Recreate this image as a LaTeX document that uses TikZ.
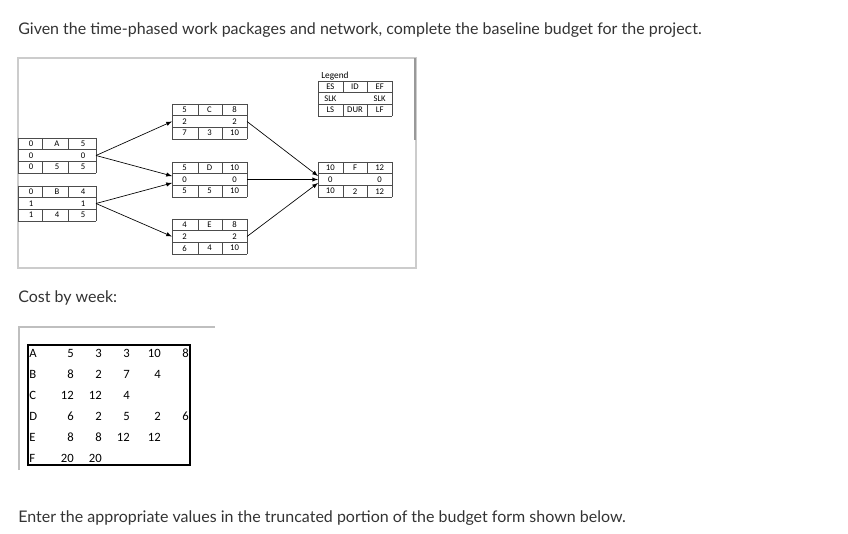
\documentclass[tikz,border=0pt]{standalone}
\usepackage{fontspec}
\setmainfont{Lato}
\newfontfamily\carl{Carlito}
\begin{document}
\begin{tikzpicture}[x=0.75pt,y=-0.75pt,
  grid/.style={draw=black!70,line width=0.5pt},
  cell/.style={font=\carl\fontsize{6.5}{7}\selectfont,inner sep=0pt},
  arr/.style={-latex,line width=0.5pt},
  qtxt/.style={font=\fontsize{12}{14}\selectfont,text=black!80,anchor=west,inner sep=0pt},
  ct/.style={font=\carl\fontsize{9.5}{11}\selectfont,inner sep=0pt}]
\useasboundingbox (0,0) rectangle (848,534);
\node[qtxt] (q) at (18,30) {Given the time-phased work packages and network, complete the baseline budget for the project.};
\draw[black!20,line width=0.8pt] (18,58) rectangle (416,268);
\draw[black!40,line width=1pt] (415,58) -- (415,140);
\foreach \nm/\xa/\xb/\xc/\xd/\yy/\ra/\rb/\rc in {
  A/18/42/68/96/138/{0,A,5}/{0,,0}/{0,5,5},
  B/18/42/68/96/186/{0,B,4}/{1,,1}/{1,4,5},
  C/172/198/222/247/104/{5,C,8}/{2,,2}/{7,3,10},
  D/172/198/222/247/162/{5,D,10}/{0,,0}/{5,5,10},
  E/172/198/222/247/219/{4,E,8}/{2,,2}/{6,4,10},
  F/318/343/367/392/162/{10,F,12}/{0,,0}/{10,2,12},
  G/318/343/367/392/81/{ES,ID,EF}/{SLK,,SLK}/{LS,DUR,LF}}{
  \foreach \r in {0,1,2,3}{\draw[grid] (\xa,\yy+\r*11.7) -- (\xd,\yy+\r*11.7);}
  \draw[grid] (\xa,\yy) -- (\xa,\yy+35.1) (\xd,\yy) -- (\xd,\yy+35.1)
     (\xb,\yy) -- (\xb,\yy+11.7) (\xb,\yy+23.4) -- (\xb,\yy+35.1)
     (\xc,\yy) -- (\xc,\yy+11.7) (\xc,\yy+23.4) -- (\xc,\yy+35.1);
  \foreach [count=\i] \t in \ra {\node[cell] (\nm r1c\i) at ({\xa+(\i-0.5)*(\xd-\xa)/3},\yy+5.9) {\t};}
  \foreach [count=\i] \t in \rb {\node[cell] (\nm r2c\i) at ({\xa+(\i-0.5)*(\xd-\xa)/3},\yy+17.5) {\t};}
  \foreach [count=\i] \t in \rc {\node[cell] (\nm r3c\i) at ({\xa+(\i-0.5)*(\xd-\xa)/3},\yy+29.2) {\t};}
  \coordinate (\nm L) at (\xa,\yy+17.5);
  \coordinate (\nm R) at (\xd,\yy+17.5);
  \coordinate (\nm Lt) at (\xa,\yy+14);
  \coordinate (\nm Lb) at (\xa,\yy+21);
}
\node[cell,anchor=west,font=\carl\fontsize{7}{8}\selectfont] (leg) at (321,76) {Legend};
\draw[arr] (AR) -- (CL);
\draw[arr] (AR) -- (DLt);
\draw[arr] (BR) -- (DLb);
\draw[arr] (BR) -- (EL);
\draw[arr] (CR) -- (FLt);
\draw[arr] (DR) -- (FL);
\draw[arr] (ER) -- (FLb);
\node[qtxt] (cw) at (18,298) {Cost by week:};
\draw[black!25,line width=0.8pt] (19,470) -- (19,327) -- (215,327);
\draw[line width=1pt] (28,345) rectangle (190,465);
\foreach \nm/\ys/\vals in {A/353/{5,3,3,10,8},B/374/{8,2,7,4},C/395/{12,12,4},D/416/{6,2,5,2,6},E/437/{8,8,12,12},F/458/{20,20}}{
  \node[ct,anchor=west] (lab\nm) at (29,\ys) {\nm};
  \foreach [count=\i] \v in \vals {
    \pgfmathsetmacro\xx{{74,102,130,161,189}[\i-1]}
    \node[ct,anchor=east] (v\nm\i) at (\xx,\ys) {\v};}
}
\node[qtxt] (bt) at (18,518) {Enter the appropriate values in the truncated portion of the budget form shown below.};
\end{tikzpicture}
\end{document}
